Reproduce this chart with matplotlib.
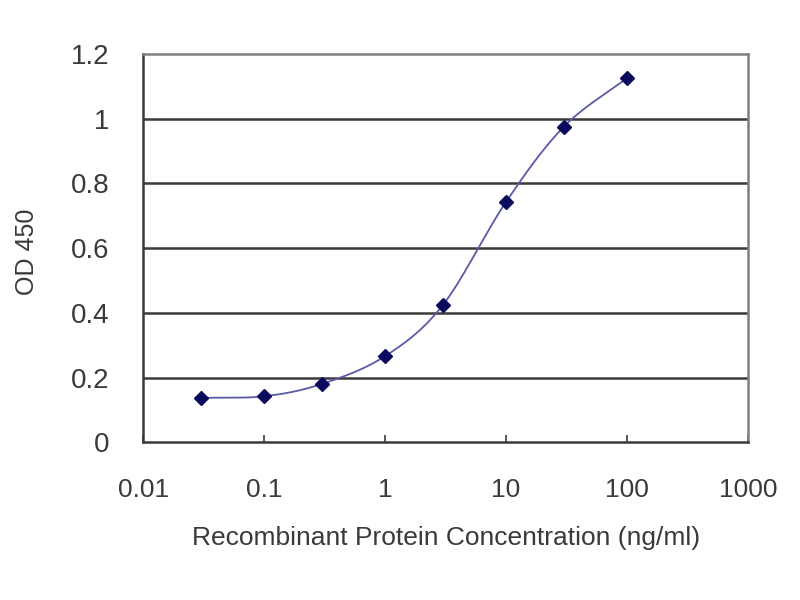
import matplotlib
matplotlib.use("Agg")
import matplotlib.pyplot as plt
import numpy as np

# data
conc = [0.03, 0.1, 0.3, 1, 3, 10, 30, 100]
od450 = [0.137, 0.142, 0.18, 0.266, 0.424, 0.743, 0.975, 1.126]
xticks = [0.01, 0.1, 1, 10, 100, 1000]
xticklabels = ["0.01", "0.1", "1", "10", "100", "1000"]
yticks = [0, 0.2, 0.4, 0.6, 0.8, 1.0, 1.2]
yticklabels = ["0", "0.2", "0.4", "0.6", "0.8", "1", "1.2"]

plt.rcParams['font.family'] = ['Liberation Sans', 'DejaVu Sans']
TXT = '#3a3a3a'


def smooth_line(xs, ys, n=30):
    # catmull-rom spline through the points, in log10(x) space (like a spreadsheet smoothed line)
    lx = np.log10(np.asarray(xs, float))
    y = np.asarray(ys, float)
    px = np.concatenate([[2 * lx[0] - lx[1]], lx, [2 * lx[-1] - lx[-2]]])
    py = np.concatenate([[2 * y[0] - y[1]], y, [2 * y[-1] - y[-2]]])
    t = np.linspace(0, 1, n)
    ox, oy = [], []
    for i in range(1, len(px) - 2):
        for p, out in ((px, ox), (py, oy)):
            p0, p1, p2, p3 = p[i - 1], p[i], p[i + 1], p[i + 2]
            out.extend(0.5 * (2 * p1 + (-p0 + p2) * t
                              + (2 * p0 - 5 * p1 + 4 * p2 - p3) * t ** 2
                              + (-p0 + 3 * p1 - 3 * p2 + p3) * t ** 3))
    return 10 ** np.array(ox), np.array(oy)


fig = plt.figure(figsize=(8, 6), dpi=100)
ax = fig.add_axes([0.179, 0.263, 0.756, 0.647])

cx, cy = smooth_line(conc, od450)
ax.plot(cx, cy, color='#5a5aa8', linewidth=1.3, zorder=3)
ax.plot(conc, od450, linestyle='none', marker='D', markersize=7,
        color='#0b0b5e', zorder=4)

ax.set_xscale('log')
ax.set_xlim(0.01, 1000)
ax.set_ylim(0, 1.2)
ax.set_xticks(xticks)
ax.set_xticklabels(xticklabels)
ax.xaxis.set_minor_locator(matplotlib.ticker.NullLocator())
ax.set_yticks(yticks)
ax.set_yticklabels(yticklabels)

for v in yticks[1:-1]:
    ax.axhline(v, color='#3a3a3a', linewidth=1.8, zorder=1)

for s in ['top', 'right']:
    ax.spines[s].set_color('#808080')
    ax.spines[s].set_linewidth(1.8)
for s in ['left', 'bottom']:
    ax.spines[s].set_color('#3a3a3a')
    ax.spines[s].set_linewidth(1.8)

ax.tick_params(axis='x', direction='in', length=5, width=1.2, color='#3a3a3a',
               labelsize=19, labelcolor=TXT, pad=26)
ax.tick_params(axis='y', length=0, labelsize=20, labelcolor=TXT, pad=24)

ax.set_xlabel('Recombinant Protein Concentration (ng/ml)', fontsize=19, color=TXT)
ax.set_ylabel('OD 450', fontsize=18, color=TXT)
ax.xaxis.set_label_coords(0.5, -0.215)
ax.yaxis.set_label_coords(-0.172, 0.49)

plt.savefig('out.png', dpi=100)
